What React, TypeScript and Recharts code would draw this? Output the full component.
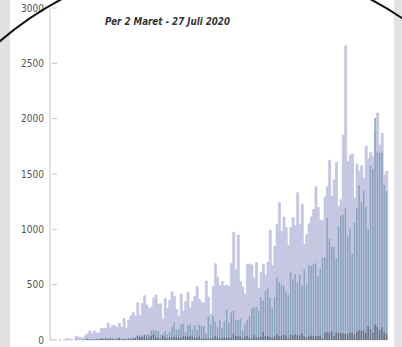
import React from "react";
import { BarChart, Bar, XAxis, YAxis } from "recharts";

const W = 402;
const H = 347;

const title = "Per 2 Maret - 27 Juli 2020";
const yTicks = [0, 500, 1000, 1500, 2000, 2500, 3000];

// categories: [month label, first day, last day]
const monthSpans: [string, number, number][] = [
  ["Mar", 2, 31],
  ["Apr", 1, 30],
  ["May", 1, 31],
  ["Jun", 1, 30],
  ["Jul", 1, 27],
];
const dates: string[] = monthSpans.flatMap(([m, a, b]) =>
  Array.from({ length: b - a + 1 }, (_, k) => `${a + k} ${m}`)
);

// daily new cases
const casesMar = [2,0,0,0,2,0,2,13,8,7,0,35,27,21,17,38,55,82,60,81,64,65,107,104,103,153,109,130,129,114];
const casesApr = [149,113,196,106,181,218,247,218,337,219,330,399,316,282,297,380,407,325,327,185,375,283,357,436,396,275,214,415,260,347];
const casesMay = [433,292,349,395,484,367,338,336,533,387,233,484,689,568,490,529,489,496,486,693,973,634,949,526,479,415,686,687,678,557,700];
const casesJun = [467,609,684,585,703,993,672,847,1043,1241,979,1111,1014,857,1017,1106,1031,1331,1041,1226,862,954,1051,1113,1178,1385,1198,1082,1082,1293];
const casesJul = [1385,1624,1301,1447,1607,1209,1268,1853,2657,1611,1671,1681,1282,1591,1522,1574,1462,1752,1639,1693,1655,1882,2051,1761,1868,1492,1525];

// daily recovered
const recMar = [0,0,0,0,0,0,0,0,0,0,0,3,0,0,6,0,3,3,0,0,0,9,1,6,11,15,2,18,0,1];
const recApr = [16,12,10,0,0,16,22,22,24,44,34,28,52,50,88,93,84,83,47,53,79,49,74,116,158,94,99,141,147,74];
const recMay = [130,146,94,134,89,139,131,122,59,214,138,222,165,117,181,108,168,272,155,248,263,183,178,192,86,143,180,219,287,293,299];
const recJun = [264,389,356,444,470,383,291,387,563,524,500,490,443,408,612,547,591,515,592,492,636,502,677,669,688,692,577,643,743,748];
const recJul = [1103,912,843,841,740,1027,1122,1135,1190,934,1005,777,1060,1190,1400,1246,1345,1200,1000,1575,1543,2009,1703,1693,1692,1402,1345];

// daily deaths
const deathMar = [0,0,0,0,0,0,0,0,0,1,0,4,1,0,0,5,12,6,7,6,10,10,17,11,20,9,15,12,8,14];
const deathApr = [21,11,11,10,16,12,12,19,40,26,26,46,26,13,36,53,27,18,12,35,24,11,26,20,27,26,24,16,33,34];
const deathMay = [30,31,31,20,20,31,13,13,16,13,14,18,34,27,13,16,24,21,20,21,59,35,32,35,13,29,36,23,13,44,20];
const deathJun = [28,25,70,36,38,28,18,32,49,35,35,48,41,15,46,41,51,41,40,61,36,25,35,40,37,35,36,39,16,65];
const deathJul = [70,69,76,39,71,61,66,58,56,52,64,71,50,76,87,86,84,64,127,96,66,139,117,89,116,74,57];

const cases = [...casesMar, ...casesApr, ...casesMay, ...casesJun, ...casesJul];
const recovered = [...recMar, ...recApr, ...recMay, ...recJun, ...recJul];
const deaths = [...deathMar, ...deathApr, ...deathMay, ...deathJun, ...deathJul];

const data = dates.map((d, i) => ({
  date: d,
  cases: cases[i],
  recovered: recovered[i],
  deaths: deaths[i],
}));

const tickFont = "'Liberation Sans Narrow', 'DejaVu Sans Condensed', 'Liberation Sans', sans-serif";

function YTick(props: any) {
  const { x, y, payload } = props;
  return (
    <g>
      <text x={x} y={y} dy={3.5} textAnchor="end" fontSize={10} fill="#555" fontFamily={tickFont}>
        {payload.value}
      </text>
      <line x1={x + 8} x2={x + 13} y1={y} y2={y} stroke="#c4c4c8" strokeWidth={1} />
    </g>
  );
}

export default function App() {
  return (
    <div style={{ position: "absolute", left: 0, top: 0, width: W, height: H, background: "#fff", overflow: "hidden" }}>
      <BarChart
        width={W}
        height={H}
        data={data}
        margin={{ top: 8, right: 14, bottom: 7, left: 0 }}
        barCategoryGap={0}
        barGap={0}
      >
        <XAxis xAxisId="c" dataKey="date" height={0} tick={false} tickLine={false} axisLine={{ stroke: "#c4c4c8" }} />
        <XAxis xAxisId="r" dataKey="date" hide />
        <XAxis xAxisId="d" dataKey="date" hide />
        <YAxis
          width={50}
          domain={[0, 3000]}
          ticks={yTicks}
          interval={0}
          tickLine={false}
          tickSize={0}
          tickMargin={6}
          axisLine={{ stroke: "#c4c4c8" }}
          tick={<YTick />}
        />
        <Bar xAxisId="c" dataKey="cases" fill="#c5c6e2" stroke="#c5c6e2" strokeWidth={0.8} barSize={2.3} isAnimationActive={false} />
        <Bar xAxisId="r" dataKey="recovered" fill="#8ea6bd" barSize={1.6} isAnimationActive={false} />
        <Bar xAxisId="d" dataKey="deaths" fill="#66707e" barSize={1.4} isAnimationActive={false} />
      </BarChart>
      <svg width={W} height={H} style={{ position: "absolute", left: 0, top: 0, pointerEvents: "none" }}>
        <rect x={0} y={0} width={10} height={H} fill="#e0e0e5" />
        <rect x={394} y={0} width={8} height={H} fill="#e3e3e7" />
        <text
          x={105}
          y={25}
          fontSize={11}
          fontStyle="italic"
          fontWeight="bold"
          fill="#333"
          fontFamily={tickFont}
          textLength={125}
          lengthAdjust="spacingAndGlyphs"
        >
          {title}
        </text>
        <circle cx={216} cy={292} r={331} fill="none" stroke="#111" strokeWidth={2} />
      </svg>
    </div>
  );
}
